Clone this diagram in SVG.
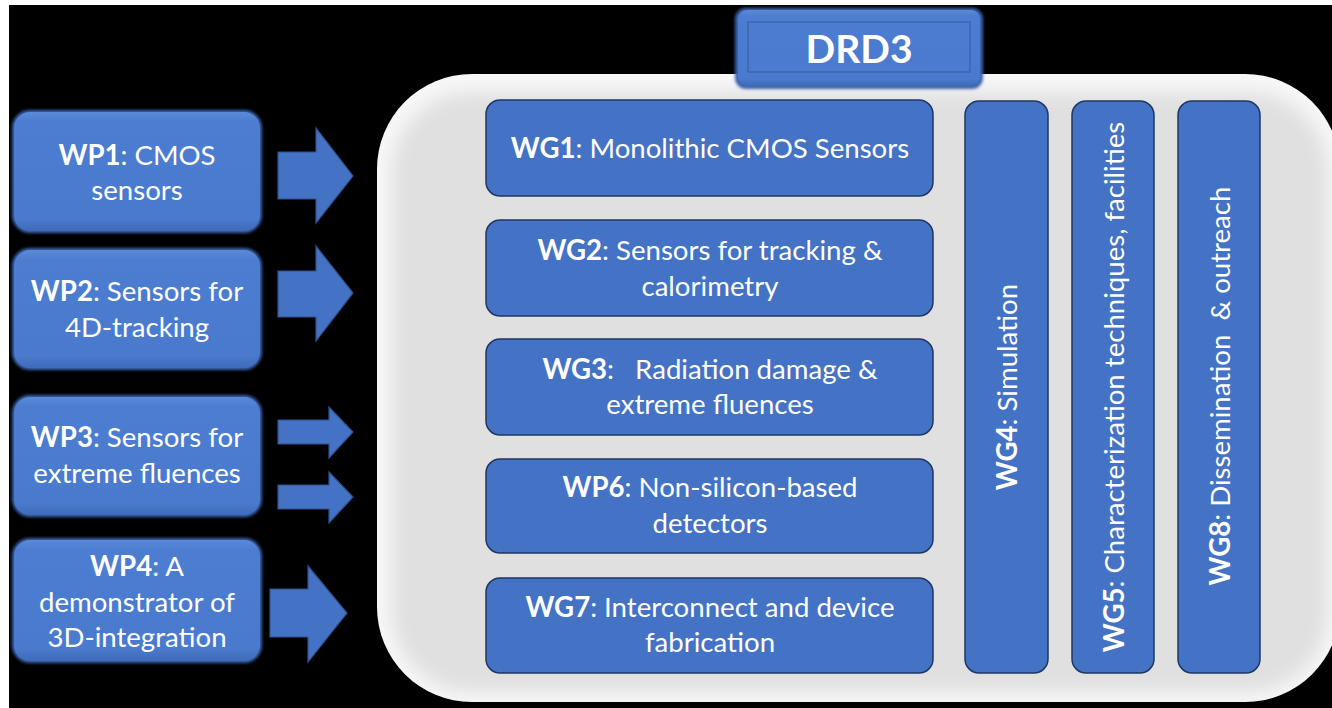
<svg xmlns="http://www.w3.org/2000/svg" width="1332" height="708" viewBox="0 0 1332 708">
<defs>
<style>
text{font-family:Lato,"Open Sans","Liberation Sans",sans-serif;fill:#fff;font-size:27.6px;text-anchor:middle;white-space:pre}
.b{font-weight:bold}
.wg{fill:#4472c4;stroke:#1f3763;stroke-width:1.5}
.arr{fill:#4472c4;stroke:#2f528f;stroke-width:1.2}
</style>
<linearGradient id="wpg" x1="0" y1="0" x2="0" y2="1">
<stop offset="0" stop-color="#5a8ad8"/>
<stop offset="0.08" stop-color="#4c7dd0"/>
<stop offset="0.9" stop-color="#4a7acd"/>
<stop offset="1" stop-color="#3f6bb8"/>
</linearGradient>
<filter id="soft" x="-5%" y="-5%" width="110%" height="110%"><feGaussianBlur stdDeviation="1.5"/></filter>
<filter id="pblur" x="-5%" y="-5%" width="110%" height="110%"><feGaussianBlur stdDeviation="9"/></filter>
<clipPath id="pclip"><rect x="377" y="74" width="963" height="628" rx="95"/></clipPath>
</defs>
<rect width="1332" height="708" fill="#fff"/>
<rect x="9" y="5" width="1323" height="703" fill="#000"/>

<g id="panel">
<rect x="377" y="74" width="963" height="628" rx="95" fill="#f7f7f7"/>
<g clip-path="url(#pclip)">
<rect x="392" y="92" width="936" height="600" rx="80" fill="#e0e0e0" filter="url(#pblur)"/>
</g>
</g>

<g id="drd3">
<rect x="735" y="8" width="248" height="81" rx="11" fill="#3a64ad" filter="url(#soft)"/>
<rect x="738" y="10" width="242" height="76" rx="9" fill="url(#wpg)"/>
<rect x="748" y="22" width="222" height="50" fill="none" stroke="#3c66b0" stroke-width="1.5"/>
<text class="b" x="859" y="63" style="font-size:39px">DRD3</text>
</g>

<g id="wp1">
<rect x="12" y="110" width="250" height="123" rx="18" fill="#3a64ad" filter="url(#soft)"/>
<rect x="14" y="112" width="246" height="119" rx="16" fill="url(#wpg)"/>
<text x="137" y="165"><tspan class="b">WP1</tspan>: CMOS</text>
<text x="137" y="200">sensors</text>
</g>
<g id="wp2">
<rect x="12" y="248" width="250" height="122" rx="18" fill="#3a64ad" filter="url(#soft)"/>
<rect x="14" y="250" width="246" height="118" rx="16" fill="url(#wpg)"/>
<text x="137" y="301"><tspan class="b">WP2</tspan>: Sensors for</text>
<text x="137" y="337">4D-tracking</text>
</g>
<g id="wp3">
<rect x="12" y="395" width="250" height="122" rx="18" fill="#3a64ad" filter="url(#soft)"/>
<rect x="14" y="397" width="246" height="118" rx="16" fill="url(#wpg)"/>
<text x="137" y="447"><tspan class="b">WP3</tspan>: Sensors for</text>
<text x="137" y="483">extreme fluences</text>
</g>
<g id="wp4">
<rect x="12" y="538" width="250" height="125" rx="18" fill="#3a64ad" filter="url(#soft)"/>
<rect x="14" y="540" width="246" height="121" rx="16" fill="url(#wpg)"/>
<text x="137" y="576"><tspan class="b">WP4</tspan>: A</text>
<text x="137" y="612">demonstrator of</text>
<text x="137" y="647">3D-integration</text>
</g>

<g id="connectors">
<polygon class="arr" points="278,152 316,152 316,128 353,176 316,223 316,199 278,199"/>
<polygon class="arr" points="278,271 316,271 316,246 353,293 316,341 316,317 278,317"/>
<polygon class="arr" points="278,420 329,420 329,407 353,432 329,458 329,444 278,444"/>
<polygon class="arr" points="278,485 329,485 329,472 353,497 329,523 329,509 278,509"/>
<polygon class="arr" points="270,589 308,589 308,566 347,613 308,662 308,637 270,637"/>
</g>

<g id="wg1">
<rect class="wg" x="486" y="100" width="447" height="96" rx="14"/>
<text x="710" y="158"><tspan class="b">WG1</tspan>: Monolithic CMOS Sensors</text>
</g>
<g id="wg2">
<rect class="wg" x="486" y="220" width="447" height="96" rx="14"/>
<text x="710" y="260"><tspan class="b">WG2</tspan>: Sensors for tracking &amp;</text>
<text x="710" y="296">calorimetry</text>
</g>
<g id="wg3">
<rect class="wg" x="486" y="339" width="447" height="96" rx="14"/>
<text x="710" y="379"><tspan class="b">WG3</tspan>:   Radiation damage &amp;</text>
<text x="710" y="414">extreme fluences</text>
</g>
<g id="wp6">
<rect class="wg" x="486" y="459" width="447" height="94" rx="14"/>
<text x="710" y="497"><tspan class="b">WP6</tspan>: Non-silicon-based</text>
<text x="710" y="533">detectors</text>
</g>
<g id="wg7">
<rect class="wg" x="486" y="578" width="447" height="95" rx="14"/>
<text x="710" y="617"><tspan class="b">WG7</tspan>: Interconnect and device</text>
<text x="710" y="652">fabrication</text>
</g>

<g id="wg4">
<rect class="wg" x="965" y="101" width="83" height="572" rx="14"/>
<text transform="translate(1017 387) rotate(-90)"><tspan class="b">WG4</tspan>: Simulation</text>
</g>
<g id="wg5">
<rect class="wg" x="1072" y="101" width="82" height="572" rx="14"/>
<text transform="translate(1124 387) rotate(-90)"><tspan class="b">WG5</tspan>: Characterization techniques, facilities</text>
</g>
<g id="wg8">
<rect class="wg" x="1178" y="101" width="82" height="572" rx="14"/>
<text transform="translate(1230 386) rotate(-90)"><tspan class="b">WG8</tspan>: Dissemination  &amp; outreach</text>
</g>
</svg>
